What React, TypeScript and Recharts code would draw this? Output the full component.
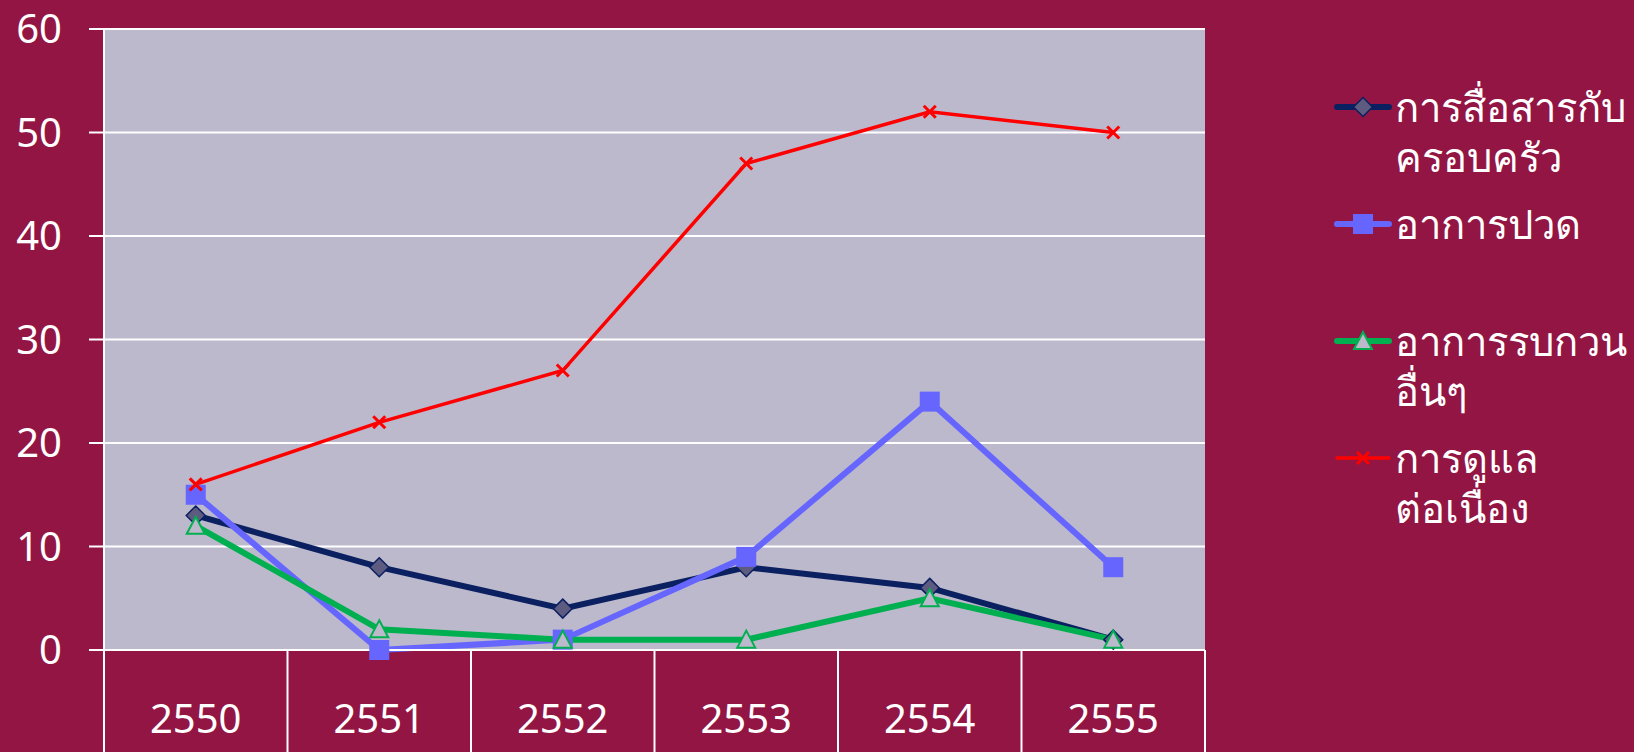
import React from "react";
import { LineChart, Line, XAxis, YAxis, CartesianGrid, Legend } from "recharts";

const years = ["2550", "2551", "2552", "2553", "2554", "2555"];
const familyComm = [13, 8, 4, 8, 6, 1];
const pain = [15, 0, 1, 9, 24, 8];
const otherSymptoms = [12, 2, 1, 1, 5, 1];
const continuingCare = [16, 22, 27, 47, 52, 50];
const yTicks = [0, 10, 20, 30, 40, 50, 60];
const seriesNames = ["การสื่อสารกับ\nครอบครัว", "อาการปวด", "อาการรบกวน\nอื่นๆ", "การดูแล\nต่อเนื่อง"];

const data = years.map((year, i) => ({
  year,
  familyComm: familyComm[i],
  pain: pain[i],
  otherSymptoms: otherSymptoms[i],
  continuingCare: continuingCare[i],
}));

const W = 1634;
const H = 752;
const Y_AXIS_W = 104;
const X_AXIS_H = 102;
const MARGIN = { top: 29, right: 429, bottom: 0, left: 0 };
const PLOT_W = W - MARGIN.right - Y_AXIS_W;
const BAND = PLOT_W / years.length;

const BG = "#931543";
const PLOT_BG = "#BCB9CC";
const FONT = "Tahoma, 'Noto Sans', 'DejaVu Sans', sans-serif";

const NAVY = "#0B2060";
const BLUE = "#6666FF";
const GREEN = "#00B050";
const RED = "#FF0000";

// marker shapes, shared by the lines and the legend
function diamond(cx: number, cy: number, key?: string) {
  return (
    <path key={key} d={`M${cx},${cy - 9.5} L${cx + 9.5},${cy} L${cx},${cy + 9.5} L${cx - 9.5},${cy} Z`}
      fill="#5E5B80" stroke={NAVY} strokeWidth={1.5} />
  );
}
function square(cx: number, cy: number, key?: string) {
  return <rect key={key} x={cx - 10} y={cy - 10} width={20} height={20} fill={BLUE} />;
}
function triangle(cx: number, cy: number, key?: string) {
  return (
    <path key={key} d={`M${cx},${cy - 9} L${cx + 9},${cy + 8} L${cx - 9},${cy + 8} Z`}
      fill={PLOT_BG} stroke={GREEN} strokeWidth={2} />
  );
}
function cross(cx: number, cy: number, key?: string) {
  return (
    <g key={key} stroke={RED} strokeWidth={3}>
      <line x1={cx - 6} y1={cy - 6} x2={cx + 6} y2={cy + 6} />
      <line x1={cx - 6} y1={cy + 6} x2={cx + 6} y2={cy - 6} />
    </g>
  );
}

const markers = [diamond, square, triangle, cross];
const colors = [NAVY, BLUE, GREEN, RED];

const makeDot = (fn: typeof diamond, name: string) => (p: any) => {
  if (p.cx == null || p.cy == null) return <g key={`${name}-${p.index}`} />;
  return fn(p.cx, p.cy, `${name}-${p.index}`);
};

const YearTick = (props: any) => {
  const { x, y, payload, index } = props;
  const base = y - 8; // axis line
  const left = x - BAND / 2;
  return (
    <g>
      <line x1={left} y1={base} x2={left} y2={H} stroke="#fff" strokeWidth={2} />
      {index === years.length - 1 && (
        <line x1={x + BAND / 2} y1={base} x2={x + BAND / 2} y2={H} stroke="#fff" strokeWidth={2} />
      )}
      <text x={x} y={base + 67} textAnchor="middle" dominantBaseline="central" fill="#fff"
        fontSize={40} fontFamily={FONT}>
        {payload.value}
      </text>
    </g>
  );
};

const renderLegend = (props: any) => {
  const items = [...(props.payload || [])].sort(
    (a: any, b: any) => seriesNames.indexOf(a.value) - seriesNames.indexOf(b.value)
  );
  return (
    <div style={{ fontFamily: FONT, color: "#fff", fontSize: 40 }}>
      {items.map((entry: any) => {
        const i = seriesNames.indexOf(entry.value);
        return (
          <div key={i} style={{ height: 117, display: "flex", alignItems: "flex-start" }}>
            <svg width={58} height={50} style={{ flex: "none" }}>
              <line x1={3} y1={25} x2={55} y2={25} stroke={colors[i]} strokeWidth={i === 3 ? 3.5 : 6}
                strokeLinecap="round" />
              {markers[i](29, 25)}
            </svg>
            <div style={{ whiteSpace: "pre-line", lineHeight: "50px", marginLeft: 3 }}>{entry.value}</div>
          </div>
        );
      })}
    </div>
  );
};

export default function App() {
  return (
    <div style={{ position: "absolute", left: 0, top: 0, width: W, height: H, background: BG }}>
      <LineChart width={W} height={H} data={data} margin={MARGIN}>
        <CartesianGrid vertical={false} fill={PLOT_BG} stroke="#fff" strokeWidth={2} />
        <XAxis dataKey="year" scale="band" height={X_AXIS_H} axisLine={{ stroke: "#fff", strokeWidth: 2 }}
          tickLine={false} tick={<YearTick />} interval={0} />
        <YAxis domain={[0, 60]} ticks={yTicks} width={Y_AXIS_W} tickSize={15} tickMargin={27}
          axisLine={{ stroke: "#fff", strokeWidth: 2 }} tickLine={{ stroke: "#fff", strokeWidth: 2 }}
          tick={{ fill: "#fff", fontSize: 40, fontFamily: FONT }} />
        <Legend layout="vertical" align="center" verticalAlign="middle" content={renderLegend}
          wrapperStyle={{ left: 1334, top: 82, right: "auto", bottom: "auto", width: 300 }} />
        <Line dataKey="familyComm" name={seriesNames[0]} stroke={NAVY} strokeWidth={6}
          dot={makeDot(diamond, "fc")} isAnimationActive={false} />
        <Line dataKey="pain" name={seriesNames[1]} stroke={BLUE} strokeWidth={6}
          dot={makeDot(square, "p")} isAnimationActive={false} />
        <Line dataKey="otherSymptoms" name={seriesNames[2]} stroke={GREEN} strokeWidth={6}
          dot={makeDot(triangle, "os")} isAnimationActive={false} />
        <Line dataKey="continuingCare" name={seriesNames[3]} stroke={RED} strokeWidth={3.5}
          dot={makeDot(cross, "cc")} isAnimationActive={false} />
      </LineChart>
    </div>
  );
}
